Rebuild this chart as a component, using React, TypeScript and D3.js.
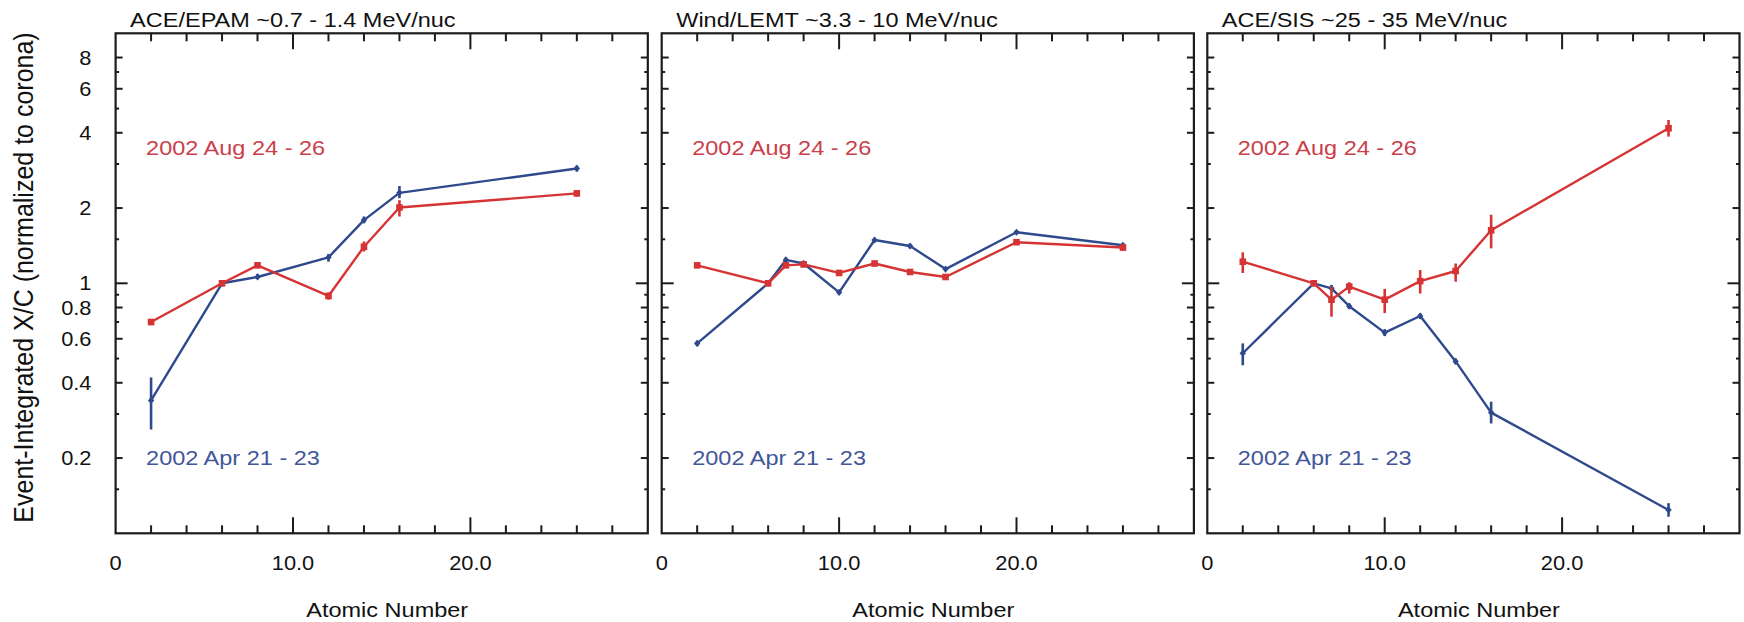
import React from "react";
import * as d3 from "d3";

const W = 1744;
const H = 622;

// Atomic numbers (Z) measured by each instrument
const zEpam = [2, 6, 8, 12, 14, 16, 26];
const zLemt = [2, 6, 7, 8, 10, 12, 14, 16, 20, 26];
const zSis = [2, 6, 7, 8, 10, 12, 14, 16, 26];

// ACE/EPAM ~0.7 - 1.4 MeV/nuc
const epamAug = [0.7, 1.0, 1.18, 0.89, 1.4, 2.01, 2.29];
const epamAugLo = [0.68, 0.98, 1.15, 0.86, 1.34, 1.85, 2.22];
const epamAugHi = [0.72, 1.02, 1.21, 0.92, 1.47, 2.15, 2.36];
const epamApr = [0.34, 1.0, 1.06, 1.27, 1.79, 2.3, 2.88];
const epamAprLo = [0.26, 0.98, 1.04, 1.22, 1.74, 2.19, 2.8];
const epamAprHi = [0.42, 1.02, 1.09, 1.31, 1.85, 2.45, 2.96];

// Wind/LEMT ~3.3 - 10 MeV/nuc
const lemtAug = [1.18, 1.0, 1.18, 1.19, 1.1, 1.2, 1.11, 1.06, 1.46, 1.39];
const lemtAugLo = [1.15, 0.98, 1.15, 1.16, 1.08, 1.17, 1.09, 1.04, 1.43, 1.35];
const lemtAugHi = [1.21, 1.02, 1.21, 1.22, 1.12, 1.23, 1.13, 1.08, 1.49, 1.43];
const lemtApr = [0.575, 1.0, 1.24, 1.2, 0.92, 1.49, 1.41, 1.14, 1.6, 1.42];
const lemtAprLo = [0.56, 0.98, 1.21, 1.17, 0.9, 1.46, 1.38, 1.12, 1.57, 1.39];
const lemtAprHi = [0.59, 1.02, 1.27, 1.23, 0.94, 1.52, 1.44, 1.16, 1.63, 1.45];

// ACE/SIS ~25 - 35 MeV/nuc
const sisAug = [1.22, 1.0, 0.86, 0.97, 0.86, 1.02, 1.12, 1.63, 4.17];
const sisAugLo = [1.1, 0.98, 0.735, 0.91, 0.76, 0.91, 1.015, 1.38, 3.86];
const sisAugHi = [1.33, 1.02, 0.97, 1.01, 0.95, 1.13, 1.2, 1.88, 4.5];
const sisApr = [0.525, 1.0, 0.955, 0.81, 0.635, 0.74, 0.487, 0.304, 0.124];
const sisAprLo = [0.47, 0.98, 0.93, 0.79, 0.615, 0.72, 0.475, 0.275, 0.1165];
const sisAprHi = [0.575, 1.02, 0.985, 0.83, 0.655, 0.76, 0.5, 0.336, 0.132];

const panelTitles = [
  "ACE/EPAM ~0.7 - 1.4 MeV/nuc",
  "Wind/LEMT ~3.3 - 10 MeV/nuc",
  "ACE/SIS ~25 - 35 MeV/nuc",
];
const augLabel = "2002 Aug 24 - 26";
const aprLabel = "2002 Apr 21 - 23";

const xTickLabels = [
  { v: 0, t: "0" },
  { v: 10, t: "10.0" },
  { v: 20, t: "20.0" },
];
const yLabeledTicks = [0.2, 0.4, 0.6, 0.8, 1, 2, 4, 6, 8];
const yTickText = ["0.2", "0.4", "0.6", "0.8", "1", "2", "4", "6", "8"];
const yMinorTicks = [0.15, 0.3, 0.5, 0.7, 0.9, 1.5, 3, 5, 7];
const xMinorTicks = [2, 4, 6, 8, 12, 14, 16, 18, 22, 24, 26, 28];
const xMajorTicks = [10, 20];

type Series = { z: number[]; v: number[]; lo: number[]; hi: number[] };
type Panel = { title: string; aug: Series; apr: Series };

const panels: Panel[] = [
  {
    title: panelTitles[0],
    aug: { z: zEpam, v: epamAug, lo: epamAugLo, hi: epamAugHi },
    apr: { z: zEpam, v: epamApr, lo: epamAprLo, hi: epamAprHi },
  },
  {
    title: panelTitles[1],
    aug: { z: zLemt, v: lemtAug, lo: lemtAugLo, hi: lemtAugHi },
    apr: { z: zLemt, v: lemtApr, lo: lemtAprLo, hi: lemtAprHi },
  },
  {
    title: panelTitles[2],
    aug: { z: zSis, v: sisAug, lo: sisAugLo, hi: sisAugHi },
    apr: { z: zSis, v: sisApr, lo: sisAprLo, hi: sisAprHi },
  },
];

const RED = "#d63434";
const RED_TEXT = "#c9404a";
const BLUE = "#2f4a8c";
const BLUE_TEXT = "#43569a";
const AXIS = "#1c1c1c";
const FONT = "'Liberation Sans', Arial, Helvetica, sans-serif";
const SX = 1.12; // horizontal glyph stretch

const top = 33.3;
const bottom = 533.3;
const panelLeft = [115.6, 661.7, 1207.3];
const panelWidth = 532.2;

const y = d3.scaleLog().domain([0.1, 10]).range([bottom, top]);

function Txt(props: {
  x: number;
  y: number;
  size: number;
  fill?: string;
  anchor?: "start" | "middle" | "end";
  children: string;
}) {
  return (
    <text
      transform={`translate(${props.x},${props.y}) scale(${SX},1)`}
      fontSize={props.size}
      fontFamily={FONT}
      fill={props.fill ?? "#111"}
      textAnchor={props.anchor ?? "start"}
    >
      {props.children}
    </text>
  );
}

function SeriesMarks({
  s,
  x,
  color,
  kind,
}: {
  s: Series;
  x: d3.ScaleLinear<number, number>;
  color: string;
  kind: "square" | "diamond";
}) {
  const pts = s.z.map((z, i) => [x(z), y(s.v[i])] as [number, number]);
  const line = d3.line()(pts) ?? "";
  return (
    <g>
      <path d={line} fill="none" stroke={color} strokeWidth={2.4} strokeLinejoin="round" />
      {s.z.map((z, i) => (
        <line
          key={"e" + i}
          x1={x(z)}
          x2={x(z)}
          y1={y(s.lo[i])}
          y2={y(s.hi[i])}
          stroke={color}
          strokeWidth={2.6}
        />
      ))}
      {pts.map(([px, py], i) =>
        kind === "square" ? (
          <rect key={"m" + i} x={px - 3.3} y={py - 3.3} width={6.6} height={6.6} fill={color} />
        ) : (
          <path
            key={"m" + i}
            d={`M${px},${py - 3.6}L${px + 3.2},${py}L${px},${py + 3.6}L${px - 3.2},${py}Z`}
            fill={color}
          />
        )
      )}
    </g>
  );
}

function PanelView({ p, left }: { p: Panel; left: number }) {
  const right = left + panelWidth;
  const x = d3.scaleLinear().domain([0, 30]).range([left, right]);
  const yTick = (v: number, len: number, key: string) => (
    <g key={key}>
      <line x1={left} x2={left + len} y1={y(v)} y2={y(v)} stroke={AXIS} strokeWidth={2} />
      <line x1={right} x2={right - len} y1={y(v)} y2={y(v)} stroke={AXIS} strokeWidth={2} />
    </g>
  );
  const xTick = (v: number, len: number, key: string) => (
    <g key={key}>
      <line x1={x(v)} x2={x(v)} y1={top} y2={top + len} stroke={AXIS} strokeWidth={2} />
      <line x1={x(v)} x2={x(v)} y1={bottom} y2={bottom - len} stroke={AXIS} strokeWidth={2} />
    </g>
  );
  return (
    <g>
      {yMinorTicks.map((v) => yTick(v, 3.5, "ym" + v))}
      {yLabeledTicks.map((v) => yTick(v, v === 1 ? 12 : 7, "yl" + v))}
      {xMinorTicks.map((v) => xTick(v, 8, "xm" + v))}
      {xMajorTicks.map((v) => xTick(v, 16, "xM" + v))}
      <rect
        x={left}
        y={top}
        width={panelWidth}
        height={bottom - top}
        fill="none"
        stroke={AXIS}
        strokeWidth={2.2}
      />
      {xTickLabels.map((t) => (
        <Txt key={t.t} x={x(t.v)} y={570} size={19.5} anchor="middle">
          {t.t}
        </Txt>
      ))}
      <Txt x={(left + right) / 2 + 5.5} y={617} size={21} anchor="middle">
        Atomic Number
      </Txt>
      <Txt x={left + 14.5} y={26.7} size={21}>
        {p.title}
      </Txt>
      <Txt x={left + 30.5} y={155} size={21} fill={RED_TEXT}>
        {augLabel}
      </Txt>
      <Txt x={left + 30.5} y={465} size={21} fill={BLUE_TEXT}>
        {aprLabel}
      </Txt>
      <SeriesMarks s={p.apr} x={x} color={BLUE} kind="diamond" />
      <SeriesMarks s={p.aug} x={x} color={RED} kind="square" />
    </g>
  );
}

export default function App() {
  return (
    <svg
      width={W}
      height={H}
      viewBox={`0 0 ${W} ${H}`}
      style={{ position: "absolute", left: 0, top: 0, background: "#fff" }}
    >
      <rect x={0} y={0} width={W} height={H} fill="#fff" />
      {yLabeledTicks.map((v, i) => (
        <Txt key={"yt" + v} x={91.5} y={y(v) + 7} size={19.5} anchor="end">
          {yTickText[i]}
        </Txt>
      ))}
      <text
        transform={`translate(32.5,277.5) rotate(-90) scale(1,${SX})`}
        fontSize={25}
        fontFamily={FONT}
        fill="#111"
        textAnchor="middle"
      >
        Event-Integrated X/C (normalized to corona)
      </text>
      {panels.map((p, i) => (
        <PanelView key={i} p={p} left={panelLeft[i]} />
      ))}
    </svg>
  );
}
